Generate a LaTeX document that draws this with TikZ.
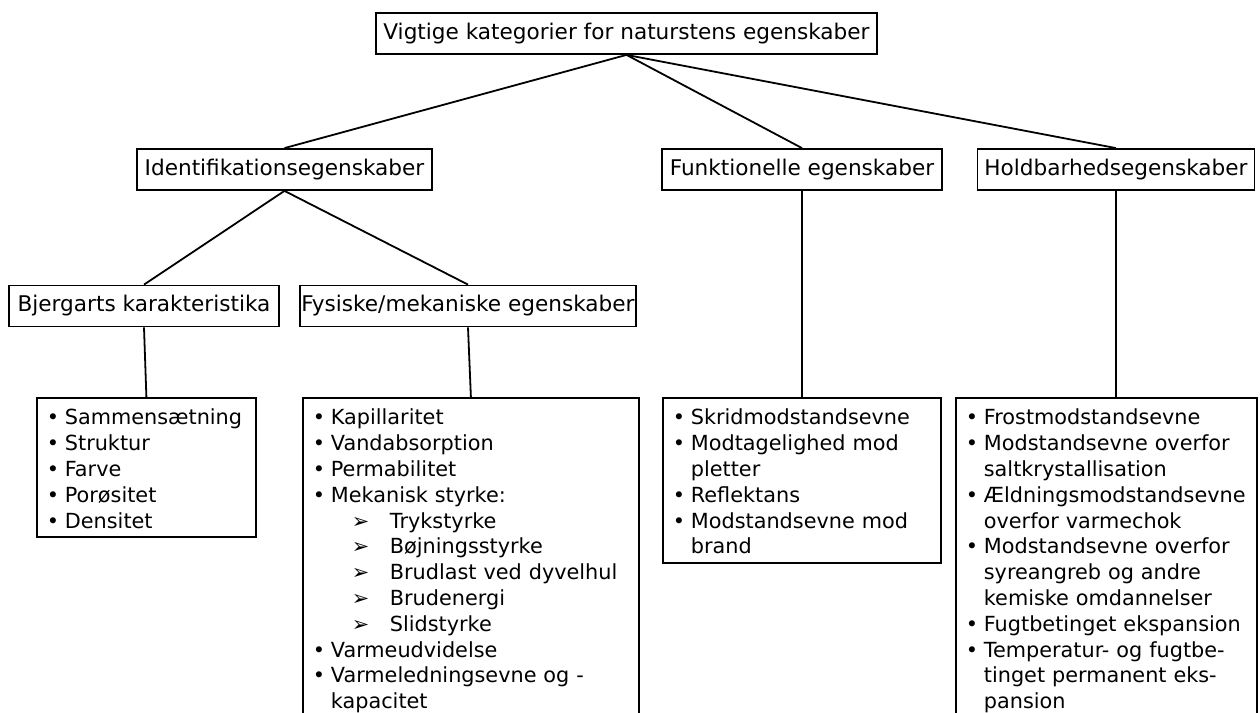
\documentclass[tikz,border=0pt]{standalone}
\usepackage{fontspec}
\setmainfont{DejaVu Sans}
\usetikzlibrary{positioning}
\hyphenpenalty=10000
\exhyphenpenalty=10000

\newcommand{\pkt}{\par\leftskip=8pt\noindent\strut\hspace*{-9pt}\makebox[9pt][l]{\textbullet}}
\newcommand{\pil}{\par\leftskip=37.5pt\noindent\strut\hspace*{-19pt}\makebox[19pt][l]{➢}}
\newcommand{\slut}{\strut\par}

\tikzset{
  kasse/.style={draw, line width=0.9pt, font=\fontsize{10.8}{13}\selectfont, minimum height=20.5pt, inner sep=0pt},
  liste/.style={draw, line width=0.9pt, anchor=north west, font=\fontsize{10.4}{12.9}\selectfont,
    inner xsep=6pt, inner ysep=0.6pt, execute at begin node=\raggedright}
}

\begin{document}
\begin{tikzpicture}[x=0.5pt, y=-0.5pt]
        \useasboundingbox (0,0) rectangle (1260,713);
        \clip (0,0) rectangle (1260,713);
        \node[kasse, minimum width=250.5pt] (top) at (626.5,33.5) {Vigtige kategorier for naturstens egenskaber};
        \node[kasse, minimum width=147.5pt] (ident) at (284.5,169.5) {Identifikationsegenskaber};
        \node[kasse, minimum width=140pt] (funk) at (802,169.5) {Funktionelle egenskaber};
        \node[kasse, minimum width=138.5pt] (hold) at (1116,169.5) {Holdbarhedsegenskaber};
        \node[kasse, minimum width=135pt] (bjerg) at (144,306) {Bjergarts karakteristika};
        \node[kasse, minimum width=168pt] (fys) at (468,306) {Fysiske/mekaniske egenskaber};
        \node[liste, text width=97.5pt] (bjergliste) at (36,397) {%
          \pkt Sammensætning
          \pkt Struktur
          \pkt Farve
          \pkt Porøsitet
          \pkt Densitet\slut};
        \node[liste, text width=156pt] (fysliste) at (302,397) {%
          \pkt Kapillaritet
          \pkt Vandabsorption
          \pkt Permabilitet
          \pkt Mekanisk styrke:
          \pil Trykstyrke
          \pil Bøjningsstyrke
          \pil Brudlast ved dyvelhul
          \pil Brudenergi
          \pil Slidstyrke
          \pkt Varmeudvidelse
          \pkt Varmeledningsevne og -\\kapacitet\slut};
        \node[liste, text width=127pt] (funkliste) at (662,397) {%
          \pkt Skridmodstandsevne
          \pkt Modtagelighed mod\\pletter
          \pkt Reflektans
          \pkt Modstandsevne mod\\brand\slut};
        \node[liste, text width=138.5pt] (holdliste) at (955,397) {%
          \pkt Frostmodstandsevne
          \pkt Modstandsevne overfor\\saltkrystallisation
          \pkt Ældningsmodstandsevne\\overfor varmechok
          \pkt Modstandsevne overfor\\syreangreb og andre\\kemiske omdannelser
          \pkt Fugtbetinget ekspansion
          \pkt Temperatur- og fugtbe-\\tinget permanent eks-\\pansion\slut};
        \draw[line width=0.9pt] (top.south) -- (ident.north);
        \draw[line width=0.9pt] (top.south) -- (funk.north);
        \draw[line width=0.9pt] (top.south) -- (hold.north);
        \draw[line width=0.9pt] (ident.south) -- (bjerg.north);
        \draw[line width=0.9pt] (ident.south) -- (fys.north);
        \draw[line width=0.9pt] (bjerg.south) -- (bjergliste.north);
        \draw[line width=0.9pt] (fys.south) -- (fysliste.north);
        \draw[line width=0.9pt] (funk.south) -- (funkliste.north);
        \draw[line width=0.9pt] (hold.south) -- (hold.south |- holdliste.north);
    \end{tikzpicture}
\end{document}
